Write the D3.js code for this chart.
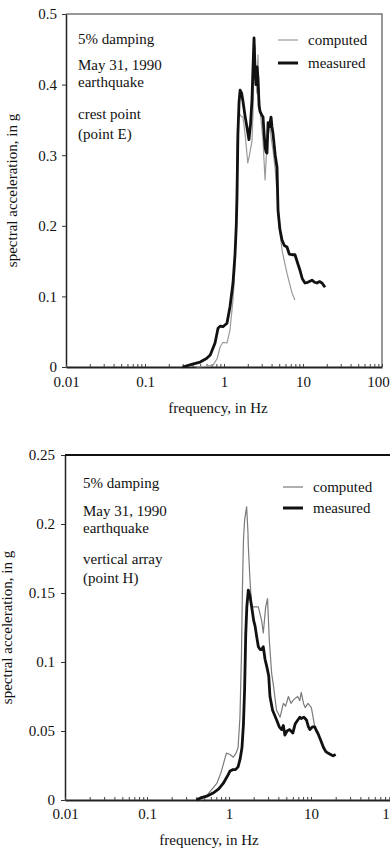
<!DOCTYPE html>
<html lang="en">
<head>
<meta charset="utf-8">
<title>Response spectra, May 31 1990 earthquake</title>
<script src="https://cdn.jsdelivr.net/npm/d3@7"></script>
<style>
  body { margin: 0; background: #fff; }
  svg { display: block; }
  svg text { font-family: "Liberation Serif", "DejaVu Serif", serif; fill: #111; }
</style>
</head>
<body>
<script>

// x axis (log frequency), same labels on both panels
var xTickValues = [0.01, 0.1, 1, 10, 100];
var xTickLabels = ["0.01", "0.1", "1", "10", "100"];

// top panel: crest point (point E)
var crestYTicks = [0, 0.1, 0.2, 0.3, 0.4, 0.5];
var crestYLabels = ["0", "0.1", "0.2", "0.3", "0.4", "0.5"];
var crestNotes = ["5% damping", "May 31, 1990", "earthquake", "crest point", "(point E)"];

var crestMeasuredFreq = [0.30, 0.40, 0.50, 0.60, 0.67, 0.77, 0.84, 0.90, 0.97, 1.09, 1.19, 1.30, 1.38, 1.43, 1.46, 1.50,
  1.55, 1.60, 1.67, 1.74, 1.85, 1.95, 2.07, 2.17, 2.26, 2.33, 2.40, 2.47, 2.54, 2.62, 2.69, 2.78, 2.86, 3.0,
  3.12, 3.22, 3.31, 3.40, 3.50, 3.61, 3.75, 3.94, 4.05, 4.17, 4.45, 4.69, 4.83, 5.1, 5.42, 5.8, 6.27, 6.7,
  7.26, 7.92, 8.5, 9.16, 9.8, 10.6, 11.5, 13.0, 14.0, 15.0, 16.2, 17.4, 19.0];
var crestMeasuredSa = [0, 0.004, 0.007, 0.012, 0.017, 0.034, 0.055, 0.058, 0.057, 0.062, 0.085, 0.119, 0.16, 0.2, 0.24, 0.33,
  0.375, 0.392, 0.388, 0.376, 0.355, 0.34, 0.322, 0.345, 0.378, 0.425, 0.466, 0.42, 0.40, 0.425, 0.41, 0.37, 0.362, 0.357,
  0.354, 0.33, 0.312, 0.305, 0.303, 0.346, 0.34, 0.354, 0.34, 0.331, 0.30, 0.283, 0.222, 0.195, 0.18, 0.172, 0.170, 0.16,
  0.159, 0.159, 0.148, 0.137, 0.125, 0.119, 0.12, 0.123, 0.12, 0.119, 0.121, 0.119, 0.113];

var crestComputedFreq = [0.45, 0.6, 0.73, 0.82, 0.89, 0.97, 1.09, 1.19, 1.30, 1.36, 1.42, 1.46, 1.50, 1.55, 1.65, 1.74,
  1.85, 2.0, 2.1, 2.26, 2.33, 2.40, 2.47, 2.54, 2.6, 2.69, 2.75, 2.86, 3.0, 3.12, 3.22, 3.31, 3.4, 3.5, 3.65,
  3.83, 4.0, 4.17, 4.45, 4.69, 5.0, 5.42, 5.8, 6.27, 6.7, 7.26, 7.9];
var crestComputedSa = [0, 0.001, 0.003, 0.012, 0.028, 0.035, 0.034, 0.052, 0.095, 0.13, 0.19, 0.31, 0.345, 0.36, 0.355, 0.354,
  0.33, 0.289, 0.30, 0.32, 0.36, 0.425, 0.455, 0.41, 0.388, 0.442, 0.40, 0.364, 0.34, 0.32, 0.29, 0.265, 0.29, 0.317, 0.33,
  0.34, 0.32, 0.307, 0.28, 0.246, 0.20, 0.166, 0.15, 0.133, 0.12, 0.105, 0.095];

// bottom panel: vertical array (point H)
var arrayYTicks = [0, 0.05, 0.1, 0.15, 0.2, 0.25];
var arrayYLabels = ["0", "0.05", "0.1", "0.15", "0.2", "0.25"];
var arrayNotes = ["5% damping", "May 31, 1990", "earthquake", "vertical array", "(point H)"];

var arrayMeasuredFreq = [0.40, 0.45, 0.55, 0.64, 0.75, 0.85, 0.95, 1.03, 1.12, 1.20, 1.29, 1.37, 1.44, 1.50, 1.55, 1.60,
  1.65, 1.72, 1.80, 1.89, 2.0, 2.08, 2.18, 2.28, 2.4, 2.5, 2.62, 2.75, 2.88, 3.05, 3.16, 3.4, 3.81, 4.1, 4.38,
  4.6, 4.8, 5.1, 5.5, 6.0, 6.4, 6.9, 7.3, 7.6, 8.2, 8.8, 9.3, 9.7, 10.4, 11.1, 11.7, 12.2, 13.2, 14.2, 15.2,
  16.1, 17.3, 18.6, 20.0];
var arrayMeasuredSa = [0, 0.0015, 0.003, 0.005, 0.008, 0.012, 0.017, 0.021, 0.022, 0.022, 0.024, 0.03, 0.038, 0.055, 0.08, 0.12,
  0.14, 0.152, 0.148, 0.14, 0.13, 0.126, 0.118, 0.111, 0.109, 0.109, 0.111, 0.102, 0.097, 0.09, 0.075, 0.065, 0.058, 0.053, 0.051,
  0.054, 0.047, 0.05, 0.051, 0.0485, 0.055, 0.058, 0.06, 0.059, 0.06, 0.058, 0.053, 0.051, 0.053, 0.053, 0.05, 0.048, 0.043, 0.038, 0.035,
  0.034, 0.033, 0.032, 0.033];

var arrayComputedFreq = [0.44, 0.55, 0.71, 0.8, 0.93, 1.03, 1.13, 1.22, 1.29, 1.36, 1.42, 1.46, 1.50, 1.55, 1.64, 1.70,
  1.72, 1.80, 1.89, 2.08, 2.28, 2.5, 2.62, 2.8, 2.95, 3.1, 3.31, 3.5, 3.8, 4.2, 4.6, 4.9, 5.3, 5.7, 6.0, 6.5,
  6.9, 7.3, 7.6, 8.1, 8.5, 9.2, 10.1, 10.6, 11.1];
var arrayComputedSa = [0, 0.004, 0.012, 0.02, 0.034, 0.033, 0.031, 0.034, 0.038, 0.06, 0.106, 0.155, 0.188, 0.203, 0.2125, 0.195,
  0.184, 0.16, 0.14, 0.14, 0.14, 0.13, 0.121, 0.14, 0.146, 0.116, 0.092, 0.082, 0.065, 0.06, 0.07, 0.068, 0.075, 0.07, 0.072, 0.074,
  0.075, 0.072, 0.078, 0.07, 0.067, 0.07, 0.067, 0.06, 0.053];

var w = 390;
var h = 849;
var fontSize = 15;

var svg = d3.select("body")
            .append("svg")
            .attr("width", w)
            .attr("height", h);

svg.append("rect")
   .attr("width", w)
   .attr("height", h)
   .attr("fill", "#fff");

function zip(freq, sa) {
  return freq.map(function(f, i) { return { f: f, v: sa[i] }; });
}

// every 1..9 x 10^k tick, labels only on the decades
var xAllTicks = [];
[-2, -1, 0, 1].forEach(function(k) {
  for (var n = 1; n < 10; n++) xAllTicks.push(n * Math.pow(10, k));
});
xAllTicks.push(100);

function drawPanel(p) {
  var g = svg.append("g");

  var xScale = d3.scaleLog()
                 .domain([0.01, 100])
                 .range([p.left, p.right]);
  var yScale = d3.scaleLinear()
                 .domain([0, p.yTicks[p.yTicks.length - 1]])
                 .range([p.bottom, p.top]);

  // frame on top and right
  g.append("path")
   .attr("d", "M" + p.left + "," + p.top + "H" + p.right + "V" + p.bottom)
   .attr("fill", "none")
   .attr("stroke", p.frameColor)
   .attr("stroke-width", p.frameWidth);

  // y axis
  var yAxis = d3.axisLeft(yScale)
                .tickValues(p.yTicks)
                .tickFormat(function(d, i) { return p.yLabels[i]; })
                .tickSizeInner(4)
                .tickSizeOuter(0)
                .tickPadding(p.yPad);
  var ya = g.append("g")
            .attr("transform", "translate(" + p.left + ",0)")
            .call(yAxis);
  ya.attr("font-family", null).attr("font-size", fontSize);
  ya.select(".domain").attr("stroke", "#222").attr("stroke-width", 1.5);
  ya.selectAll(".tick line").attr("stroke", "#333");

  // x axis, small ticks pointing up into the plot
  var xAxis = d3.axisBottom(xScale)
                .tickValues(xAllTicks)
                .tickFormat(function(d) {
                  var i = xTickValues.indexOf(d);
                  return i < 0 ? "" : xTickLabels[i];
                })
                .tickSizeInner(-3)
                .tickSizeOuter(0)
                .tickPadding(p.xPad);
  var xa = g.append("g")
            .attr("transform", "translate(0," + p.bottom + ")")
            .call(xAxis);
  xa.attr("font-family", null).attr("font-size", fontSize);
  xa.select(".domain").attr("stroke", "#222").attr("stroke-width", 2);
  xa.selectAll(".tick line").attr("stroke", "#444");
  // last label sits on the page edge, nudge it in a bit
  xa.selectAll(".tick text")
    .filter(function(d) { return d === 100; })
    .attr("dx", p.lastLabelShift);

  // axis titles
  g.append("text")
   .attr("x", (p.left + p.right) / 2 + p.xTitleShift)
   .attr("y", p.xTitleY)
   .attr("text-anchor", "middle")
   .attr("font-size", fontSize)
   .text("frequency, in Hz");

  g.append("text")
   .attr("transform", "translate(" + p.yTitleX + "," + (p.top + p.bottom) / 2 + ") rotate(-90)")
   .attr("text-anchor", "middle")
   .attr("font-size", fontSize)
   .text("spectral acceleration, in g");

  // curves
  var line = d3.line()
               .x(function(d) { return xScale(d.f); })
               .y(function(d) { return yScale(d.v); });

  g.append("path")
   .datum(zip(p.computedFreq, p.computedSa))
   .attr("d", line)
   .attr("fill", "none")
   .attr("stroke", p.computedColor)
   .attr("stroke-width", 1.2)
   .attr("stroke-linejoin", "round");

  g.append("path")
   .datum(zip(p.measuredFreq, p.measuredSa))
   .attr("d", line)
   .attr("fill", "none")
   .attr("stroke", "#111")
   .attr("stroke-width", 2.8)
   .attr("stroke-linejoin", "round");

  // notes
  g.selectAll("text.note")
   .data(p.notes)
   .enter()
   .append("text")
   .attr("class", "note")
   .attr("x", p.noteX)
   .attr("y", function(d, i) { return p.noteY[i]; })
   .attr("font-size", fontSize)
   .text(function(d) { return d; });

  // legend
  var legend = [
    { name: "computed", color: p.computedColor, width: 1.2 },
    { name: "measured", color: "#111", width: 3 }
  ];
  legend.forEach(function(d, i) {
    var ly = p.legendY[i];
    g.append("line")
     .attr("x1", p.legendX)
     .attr("x2", p.legendX + 20)
     .attr("y1", ly)
     .attr("y2", ly)
     .attr("stroke", d.color)
     .attr("stroke-width", d.width);
    g.append("text")
     .attr("x", p.legendX + 30)
     .attr("y", ly + 4.5)
     .attr("font-size", fontSize)
     .text(d.name);
  });
}

drawPanel({
  left: 66, right: 382, top: 14, bottom: 367,
  yTicks: crestYTicks, yLabels: crestYLabels,
  yPad: 5, xPad: 9, lastLabelShift: -4,
  frameColor: "#777", frameWidth: 1.5,
  xTitleY: 413, xTitleShift: -6, yTitleX: 17,
  computedColor: "#9a9a9a",
  measuredFreq: crestMeasuredFreq, measuredSa: crestMeasuredSa,
  computedFreq: crestComputedFreq, computedSa: crestComputedSa,
  notes: crestNotes, noteX: 78, noteY: [44, 70, 87, 119, 139],
  legendX: 278, legendY: [40, 63]
});

drawPanel({
  left: 65, right: 393, top: 455, bottom: 800,
  yTicks: arrayYTicks, yLabels: arrayYLabels,
  yPad: 6, xPad: 8, lastLabelShift: 0,
  frameColor: "#111", frameWidth: 2,
  xTitleY: 845, xTitleShift: -20, yTitleX: 12,
  computedColor: "#7a7a7a",
  measuredFreq: arrayMeasuredFreq, measuredSa: arrayMeasuredSa,
  computedFreq: arrayComputedFreq, computedSa: arrayComputedSa,
  notes: arrayNotes, noteX: 83, noteY: [488, 516, 533, 564, 583],
  legendX: 283, legendY: [487, 508]
});

</script>
</body>
</html>
